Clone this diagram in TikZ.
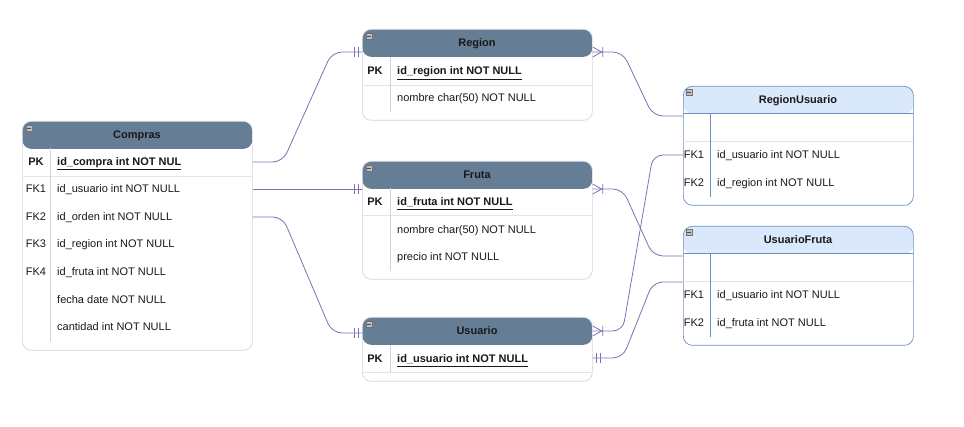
\documentclass[tikz,border=0pt]{standalone}
\usepackage{fontspec}
\setmainfont{Liberation Sans}
\usetikzlibrary{positioning}
\definecolor{hdrdark}{HTML}{657D95}
\definecolor{hdrlight}{HTML}{DAE8FC}
\definecolor{bluebd}{HTML}{6C8EBF}
\definecolor{tblline}{HTML}{D3D1E6}
\definecolor{rowc}{HTML}{E4E3EC}
\definecolor{relc}{HTML}{7A72B5}
\tikzset{
  mandone/.pic={\draw[draw=relc, line width=0.8pt] (-4,-5) -- (-4,5) (-8,-5) -- (-8,5);},
  crowfoot/.pic={\draw[draw=relc, line width=0.8pt] (0,-5) -- (-9,0) -- (0,5) (-10,-5) -- (-10,5);}
}
\begin{document}
\begin{tikzpicture}[x=1pt,y=-1pt,font=\fontsize{11pt}{13pt}\selectfont]
  \tikzstyle{table}=[draw=tblline, fill=white, rounded corners=9pt, minimum width=230pt, inner sep=0pt, anchor=north west, line width=0.7pt]
  \tikzstyle{darkhead}=[table, path picture={\fill[hdrdark] (path picture bounding box.north west) rectangle ([yshift=-27.5pt]path picture bounding box.north east);}]
  \tikzstyle{lighthead}=[table, draw=bluebd, path picture={\fill[hdrlight] (path picture bounding box.north west) rectangle ([yshift=-27.5pt]path picture bounding box.north east);
      \draw[bluebd, line width=1pt] ([yshift=-27.5pt]path picture bounding box.north west) -- ([yshift=-27.5pt]path picture bounding box.north east);}]
  \tikzstyle{tog}=[draw=black!55, fill=black!25, minimum size=6pt, inner sep=0pt, line width=0.4pt,
      path picture={\draw[black!70, line width=0.7pt] ([xshift=1.2pt]path picture bounding box.west) -- ([xshift=-1.2pt]path picture bounding box.east);}]
  \tikzstyle{title}=[font=\fontsize{11pt}{13pt}\selectfont\bfseries, text=black!90, inner sep=0pt, text height=8pt, text depth=0pt]
  \tikzstyle{field}=[anchor=west, inner sep=0pt, text height=8pt, text depth=0pt, text=black!90]
  \tikzstyle{key}=[inner sep=0pt, text height=8pt, text depth=0pt, text=black!90]
  \tikzstyle{rowline}=[draw=rowc, line width=0.8pt]
  \tikzstyle{colline}=[draw=tblline, line width=0.8pt]
  \tikzstyle{rel}=[draw=relc, line width=0.8pt, rounded corners=10pt]

  \useasboundingbox (0,0) rectangle (964,427);

  % Compras
  \node[darkhead, minimum height=229pt] (compras) at (22,121) {};
  \node[tog] (compras-x) at (29,128) {};
  \node[title] (compras-t) at (137,135) {Compras};
  \draw[rowline] (22,176) -- (252,176);
  \draw[colline] (50,148) -- (50,342);
  \node[key] (c-pk) at (36,162) {\textbf{PK}};
  \node[field] (c-id) at (57,162) {\underline{\textbf{id\_compra int NOT NUL}}};
  \node[key] (c-fk1) at (36,189) {FK1};
  \node[field] (c-us) at (57,189) {id\_usuario int NOT NULL};
  \node[key] (c-fk2) at (36,217) {FK2};
  \node[field] (c-or) at (57,217) {id\_orden int NOT NULL};
  \node[key] (c-fk3) at (36,244) {FK3};
  \node[field] (c-rg) at (57,244) {id\_region int NOT NULL};
  \node[key] (c-fk4) at (36,272) {FK4};
  \node[field] (c-fr) at (57,272) {id\_fruta int NOT NULL};
  \node[field] (c-fe) at (57,300) {fecha date NOT NULL};
  \node[field] (c-ca) at (57,327) {cantidad int NOT NULL};

  % Region
  \node[darkhead, minimum height=91pt] (region) at (362,29) {};
  \node[tog] (region-x) at (369,36) {};
  \node[title] (region-t) at (477,43) {Region};
  \draw[rowline] (362,85) -- (592,85);
  \draw[colline] (390,57) -- (390,112);
  \node[key] (r-pk) at (375,71) {\textbf{PK}};
  \node[field] (r-id) at (397,71) {\underline{\textbf{id\_region int NOT NULL}}};
  \node[field] (r-no) at (397,98) {nombre char(50) NOT NULL};

  % Fruta
  \node[darkhead, minimum height=118pt] (fruta) at (362,161) {};
  \node[tog] (fruta-x) at (369,168) {};
  \node[title] (fruta-t) at (477,175) {Fruta};
  \draw[rowline] (362,215) -- (592,215);
  \draw[colline] (390,188) -- (390,271);
  \node[key] (f-pk) at (375,202) {\textbf{PK}};
  \node[field] (f-id) at (397,202) {\underline{\textbf{id\_fruta int NOT NULL}}};
  \node[field] (f-no) at (397,230) {nombre char(50) NOT NULL};
  \node[field] (f-pr) at (397,257) {precio int NOT NULL};

  % Usuario
  \node[darkhead, minimum height=64pt] (usuario) at (362,317) {};
  \node[tog] (usuario-x) at (369,324) {};
  \node[title] (usuario-t) at (477,331) {Usuario};
  \draw[rowline] (362,372) -- (592,372);
  \draw[colline] (390,345) -- (390,372);
  \node[key] (u-pk) at (375,359) {\textbf{PK}};
  \node[field] (u-id) at (397,359) {\underline{\textbf{id\_usuario int NOT NULL}}};

  % RegionUsuario
  \node[lighthead, minimum height=119pt] (regus) at (683,86) {};
  \node[tog] (regus-x) at (689,92) {};
  \node[title] (regus-t) at (798,100) {RegionUsuario};
  \draw[rowline] (683,141) -- (913,141);
  \draw[bluebd, line width=0.8pt] (710,113) -- (710,197);
  \node[key] (ru-fk1) at (694,155) {FK1};
  \node[field] (ru-us) at (717,155) {id\_usuario int NOT NULL};
  \node[key] (ru-fk2) at (694,183) {FK2};
  \node[field] (ru-rg) at (717,183) {id\_region int NOT NULL};

  % UsuarioFruta
  \node[lighthead, minimum height=119pt] (usfr) at (683,226) {};
  \node[tog] (usfr-x) at (689,232) {};
  \node[title] (usfr-t) at (798,240) {UsuarioFruta};
  \draw[rowline] (683,281) -- (913,281);
  \draw[bluebd, line width=0.8pt] (710,253) -- (710,337);
  \node[key] (uf-fk1) at (694,295) {FK1};
  \node[field] (uf-us) at (717,295) {id\_usuario int NOT NULL};
  \node[key] (uf-fk2) at (694,323) {FK2};
  \node[field] (uf-fr) at (717,323) {id\_fruta int NOT NULL};

  % ports
  \coordinate (rg-l) at (region.west |- 0,52);
  \coordinate (rg-r) at (region.east |- 0,52);
  \coordinate (fr-l) at (fruta.west |- c-us);
  \coordinate (fr-r) at (fruta.east |- c-us);
  \coordinate (us-l) at (usuario.west |- 0,333);
  \coordinate (us-r1) at (usuario.east |- 0,331);
  \coordinate (us-r2) at (usuario.east |- 0,358);
  \coordinate (ru-a) at (regus.west |- 0,116);
  \coordinate (uf-a) at (usfr.west |- 0,256);

  % relations
  \draw[rel] (compras.east |- c-id) -- ++(30,0) -- ([xshift=-30pt]rg-l) -- (rg-l);
  \draw[rel] (compras.east |- c-us) -- (fr-l);
  \draw[rel] (compras.east |- c-or) -- ++(30,0) -- ([xshift=-30pt]us-l) -- (us-l);
  \draw[rel] (rg-r) -- ++(30,0) -- ([xshift=-30pt]ru-a) -- (ru-a);
  \draw[rel] (fr-r) -- ++(30,0) -- ([xshift=-30pt]uf-a) -- (uf-a);
  \draw[rel] (us-r1) -- ++(30,0) -- ([xshift=-30pt]regus.west |- ru-us) -- (regus.west |- ru-us);
  \draw[rel] (us-r2) -- ++(30,0) -- ([xshift=-30pt]usfr.west |- 0,282) -- (usfr.west |- 0,282);

  \pic at (rg-l) {mandone};
  \pic at (fr-l) {mandone};
  \pic at (us-l) {mandone};
  \pic[rotate=180] at (us-r2) {mandone};
  \pic[rotate=180] at (rg-r) {crowfoot};
  \pic[rotate=180] at (fr-r) {crowfoot};
  \pic[rotate=180] at (us-r1) {crowfoot};
\end{tikzpicture}
\end{document}
